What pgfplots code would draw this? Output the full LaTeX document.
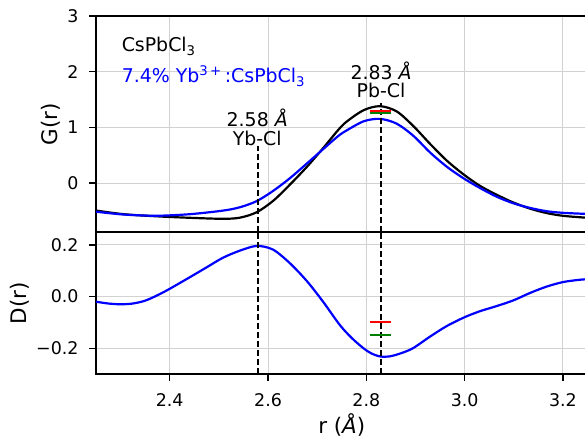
\documentclass[border=0pt]{standalone}
\usepackage{fontspec}
\setmainfont{DejaVu Sans}
\usepackage{pgfplots}
\pgfplotsset{compat=1.18}
\definecolor{gridc}{RGB}{210,210,210}
\definecolor{mplgreen}{RGB}{0,128,0}
\pgfplotsset{
  myax/.style={
    scale only axis, width=491.5bp,
    xmin=2.25, xmax=3.25,
    xtick={2.4,2.6,2.8,3.0,3.2},
    grid=major, major grid style={gridc, line width=0.9bp},
    axis line style={line width=1.8bp, black},
    tick align=outside, major tick length=7bp,
    tick style={line width=1.3bp, black},
    xtick pos=left, ytick pos=left,
    tick label style={font=\fontsize{17.5}{20}\selectfont},
    xticklabel style={yshift=-9bp},
    yticklabel style={xshift=-7bp},
    label style={font=\fontsize{21.5}{25}\selectfont},
  }
}
\begin{document}
\begin{tikzpicture}
\useasboundingbox (-96bp,-208bp) rectangle (489bp,232bp);
\begin{axis}[myax, at={(0,0)}, anchor=south west, height=216bp,
  ymin=-0.88, ymax=3,
  ytick={0,1,2,3}, yticklabels={0,1,2,3},
  xticklabels={}, xtick style={draw=none},
  ylabel={G(r)},
]
\addplot[black, line width=2.2bp, smooth] coordinates {
(2.25,-0.495)(2.306,-0.56)(2.373,-0.598)(2.441,-0.625)(2.509,-0.643)(2.543,-0.622)(2.577,-0.525)(2.611,-0.316)(2.645,-0.025)(2.679,0.29)(2.712,0.625)(2.743,0.955)(2.761,1.11)(2.795,1.31)(2.828,1.38)(2.862,1.285)(2.896,1.02)(2.930,0.70)(2.964,0.40)(2.997,0.16)(3.031,-0.05)(3.065,-0.21)(3.099,-0.35)(3.133,-0.46)(3.167,-0.54)(3.201,-0.59)(3.25,-0.625)
};
\addplot[blue, line width=2.2bp, smooth] coordinates {
(2.25,-0.515)(2.306,-0.566)(2.373,-0.588)(2.441,-0.56)(2.509,-0.495)(2.543,-0.435)(2.577,-0.325)(2.611,-0.138)(2.645,0.09)(2.679,0.35)(2.712,0.607)(2.743,0.845)(2.761,0.95)(2.795,1.11)(2.828,1.152)(2.862,1.065)(2.896,0.845)(2.930,0.546)(2.964,0.291)(2.997,0.089)(3.031,-0.089)(3.065,-0.245)(3.099,-0.364)(3.133,-0.447)(3.167,-0.507)(3.201,-0.536)(3.25,-0.556)
};
\addplot[black, line width=1.6bp, dash pattern=on 6bp off 3bp] coordinates {(2.58,-0.88)(2.58,0.67)};
\addplot[black, line width=1.6bp, dash pattern=on 6bp off 3bp] coordinates {(2.83,-0.88)(2.83,1.44)};
\addplot[red, line width=2bp] coordinates {(2.808,1.29)(2.850,1.29)};
\addplot[mplgreen, line width=2bp] coordinates {(2.808,1.25)(2.850,1.25)};
\node[anchor=base, inner sep=0pt, font=\fontsize{19}{22}\selectfont] at (axis cs:2.578,1.02) {2.58 \textit{Å}};
\node[anchor=base, inner sep=0pt, font=\fontsize{19}{22}\selectfont] at (axis cs:2.578,0.68) {Yb-Cl};
\node[anchor=base, inner sep=0pt, font=\fontsize{19}{22}\selectfont] at (axis cs:2.83,1.86) {2.83 \textit{Å}};
\node[anchor=base, inner sep=0pt, font=\fontsize{19}{22}\selectfont] at (axis cs:2.83,1.53) {Pb-Cl};
\node[anchor=base west, inner sep=0pt, font=\fontsize{19}{22}\selectfont] at (axis cs:2.302,2.36) {CsPbCl\textsubscript{3}};
\node[anchor=base west, inner sep=0pt, text=blue, font=\fontsize{19}{22}\selectfont] at (axis cs:2.302,1.81) {7.4\% Yb\textsuperscript{3\,+}\,:CsPbCl\textsubscript{3}};
\end{axis}
\begin{axis}[myax, at={(0,0)}, anchor=north west, height=142bp,
  ymin=-0.3, ymax=0.25,
  ytick={-0.2,0,0.2}, yticklabels={−0.2,0.0,0.2},
  xticklabels={2.4,2.6,2.8,3.0,3.2},
  ylabel={D(r)}, xlabel={r (\textit{Å})},
]
\addplot[blue, line width=2.2bp, smooth] coordinates {
(2.25,-0.020)(2.275,-0.027)(2.30,-0.030)(2.325,-0.027)(2.35,-0.016)(2.375,0.005)(2.40,0.030)(2.441,0.075)(2.475,0.113)(2.508,0.150)(2.543,0.178)(2.577,0.196)(2.61,0.182)(2.644,0.130)(2.679,0.060)(2.712,-0.020)(2.746,-0.110)(2.77,-0.160)(2.794,-0.200)(2.81,-0.220)(2.828,-0.232)(2.847,-0.232)(2.87,-0.220)(2.895,-0.200)(2.929,-0.156)(2.963,-0.115)(3.0,-0.080)(3.031,-0.057)(3.065,-0.037)(3.099,-0.015)(3.132,0.013)(3.166,0.038)(3.2,0.056)(3.234,0.065)(3.25,0.067)
};
\addplot[black, line width=1.6bp, dash pattern=on 6bp off 3bp] coordinates {(2.58,-0.3)(2.58,0.25)};
\addplot[black, line width=1.6bp, dash pattern=on 6bp off 3bp] coordinates {(2.83,-0.3)(2.83,0.25)};
\addplot[red, line width=2bp] coordinates {(2.808,-0.10)(2.850,-0.10)};
\addplot[mplgreen, line width=2bp] coordinates {(2.808,-0.15)(2.850,-0.15)};
\end{axis}
\end{tikzpicture}
\end{document}
